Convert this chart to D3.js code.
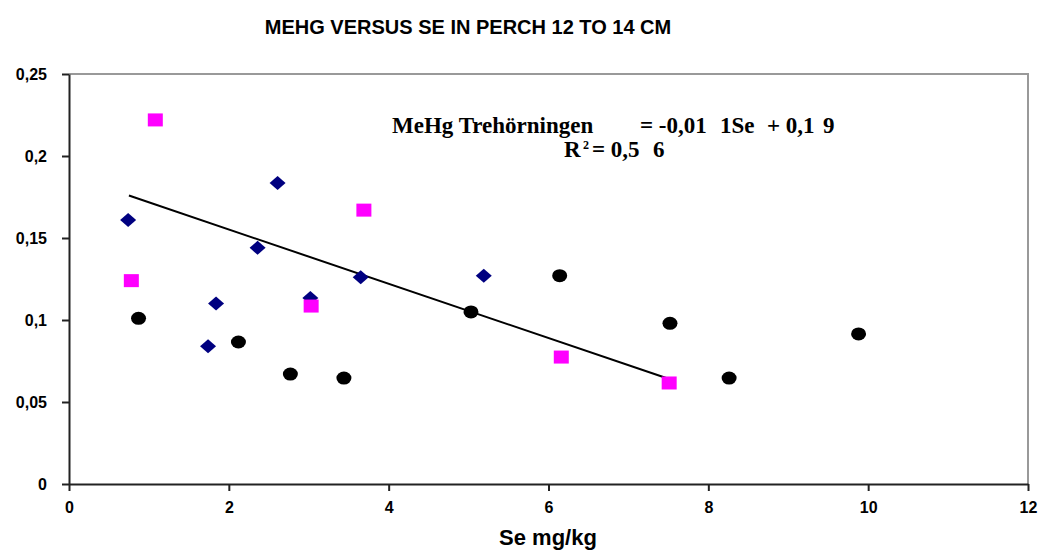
<!DOCTYPE html>
<html>
<head>
<meta charset="utf-8">
<script src="https://cdn.jsdelivr.net/npm/d3@7"></script>
<style>
	body { margin: 0; background: #fff; }
	text { font-family: Arial, "Liberation Sans", sans-serif; font-weight: bold; }
	text.eq { font-family: "Times New Roman", "Liberation Serif", serif; font-size: 23px; }
</style>
</head>
<body>
<svg id="chart" width="1039" height="550"></svg>
<script>
/*********************************************************\
* MeHg versus Se in perch 12 to 14 cm                     *
\*********************************************************/

var xTicks = [0, 2, 4, 6, 8, 10, 12],
	yTicks = [0, 0.05, 0.1, 0.15, 0.2, 0.25];

// Trehörningen (navy diamonds)
var diamondSe   = [0.74, 1.84, 1.74, 2.36, 2.61, 3.02, 3.65, 5.19],
	diamondMeHg = [0.161, 0.110, 0.084, 0.144, 0.1835, 0.1134, 0.126, 0.127];

// magenta squares
var squareSe   = [1.08, 0.78, 3.69, 3.03, 6.16, 7.51],
	squareMeHg = [0.222, 0.124, 0.167, 0.1085, 0.0774, 0.0616];

// black circles
var circleSe   = [0.87, 2.12, 2.77, 3.44, 5.03, 6.14, 7.52, 8.26, 9.88],
	circleMeHg = [0.101, 0.0866, 0.067, 0.0646, 0.1049, 0.127, 0.098, 0.0646, 0.0915];

// linear trend
var trendSe = [0.75, 7.51],
	trendSlope = -0.01655,
	trendIntercept = 0.1883;

//- - - - - - - - - - - - - - - - - - - - - - - - - - - - - - - - - - - - - - - 

var svg = d3.select('#chart'),
	plotLeft = 69, plotRight = 1028, plotTop = 74, plotBottom = 484;

var x = d3.scaleLinear().domain([0, 12]).range([plotLeft, plotRight]),
	y = d3.scaleLinear().domain([0, 0.25]).range([plotBottom, plotTop]);

function comma(v) { return String(v).replace('.', ','); }

// plot area border (top and right)
svg.append('path')
	.attr('d', 'M' + plotLeft + ',' + plotTop + 'H' + plotRight + 'V' + plotBottom)
	.attr('fill', 'none')
	.attr('stroke', '#999')
	.attr('stroke-width', 2)
;

var xAxis = svg.append('g')
	.attr('transform', 'translate(0,' + plotBottom + ')')
	.call(d3.axisBottom(x).tickValues(xTicks).tickSize(7).tickSizeOuter(0).tickFormat(comma))
;

var yAxis = svg.append('g')
	.attr('transform', 'translate(' + plotLeft + ',0)')
	.call(d3.axisLeft(y).tickValues(yTicks).tickSize(7).tickSizeOuter(0).tickFormat(comma))
;

[xAxis, yAxis].forEach(function (a) {
	a.attr('font-size', null).attr('font-family', null);
	a.selectAll('path, line').attr('stroke', '#222').attr('stroke-width', 2);
	a.selectAll('text').attr('fill', '#000').style('font-size', '16px');
});
xAxis.selectAll('text').attr('y', 18);
yAxis.selectAll('text').attr('x', -22);

// titles
svg.append('text')
	.attr('x', 468).attr('y', 34)
	.attr('text-anchor', 'middle')
	.style('font-size', '20px')
	.text('MEHG VERSUS SE IN PERCH 12 TO 14 CM')
;

svg.append('text')
	.attr('x', 548).attr('y', 545)
	.attr('text-anchor', 'middle')
	.style('font-size', '22px')
	.text('Se mg/kg')
;

//- - - - - - - - - - - - - - - - - - - - - - - - - - - - - - - - - - - - - - - 

// trendline
svg.append('line')
	.attr('x1', x(trendSe[0]))
	.attr('y1', y(trendIntercept + trendSlope * trendSe[0]))
	.attr('x2', x(trendSe[1]))
	.attr('y2', y(trendIntercept + trendSlope * trendSe[1]))
	.attr('stroke', '#000')
	.attr('stroke-width', 2)
;

var marks = svg.append('g').attr('class', 'marks');

marks.selectAll('ellipse')
	.data(d3.zip(circleSe, circleMeHg))
	.enter()
	.append('ellipse')
	.attr('cx', function (d) { return x(d[0]); })
	.attr('cy', function (d) { return y(d[1]); })
	.attr('rx', 7.5)
	.attr('ry', 6.5)
	.attr('fill', '#000')
;

marks.selectAll('path.diamond')
	.data(d3.zip(diamondSe, diamondMeHg))
	.enter()
	.append('path')
	.attr('class', 'diamond')
	.attr('d', 'M0,-7L8,0L0,7L-8,0Z')
	.attr('transform', function (d) { return 'translate(' + x(d[0]) + ',' + y(d[1]) + ')'; })
	.attr('fill', '#000080')
;

marks.selectAll('rect')
	.data(d3.zip(squareSe, squareMeHg))
	.enter()
	.append('rect')
	.attr('x', function (d) { return x(d[0]) - 7.5; })
	.attr('y', function (d) { return y(d[1]) - 6.5; })
	.attr('width', 15)
	.attr('height', 13)
	.attr('fill', '#ff00ff')
;

//- - - - - - - - - - - - - - - - - - - - - - - - - - - - - - - - - - - - - - - 

// equation label, pieces placed as in the original (digits missing there)
var eq = svg.append('text').attr('class', 'eq').attr('y', 133);
eq.append('tspan').attr('x', 392).text('MeHg Trehörningen');
eq.append('tspan').attr('x', 640).text('= -0,01');
eq.append('tspan').attr('x', 720).text('1Se');
eq.append('tspan').attr('x', 767).text('+ 0,1');
eq.append('tspan').attr('x', 823).text('9');

var r2 = svg.append('text').attr('class', 'eq').attr('y', 157);
r2.append('tspan').attr('x', 564).text('R');
r2.append('tspan').attr('x', 583).attr('y', 149).style('font-size', '12px').text('2');
r2.append('tspan').attr('x', 592).attr('y', 157).text('= 0,5');
r2.append('tspan').attr('x', 653).text('6');

</script>
</body>
</html>
